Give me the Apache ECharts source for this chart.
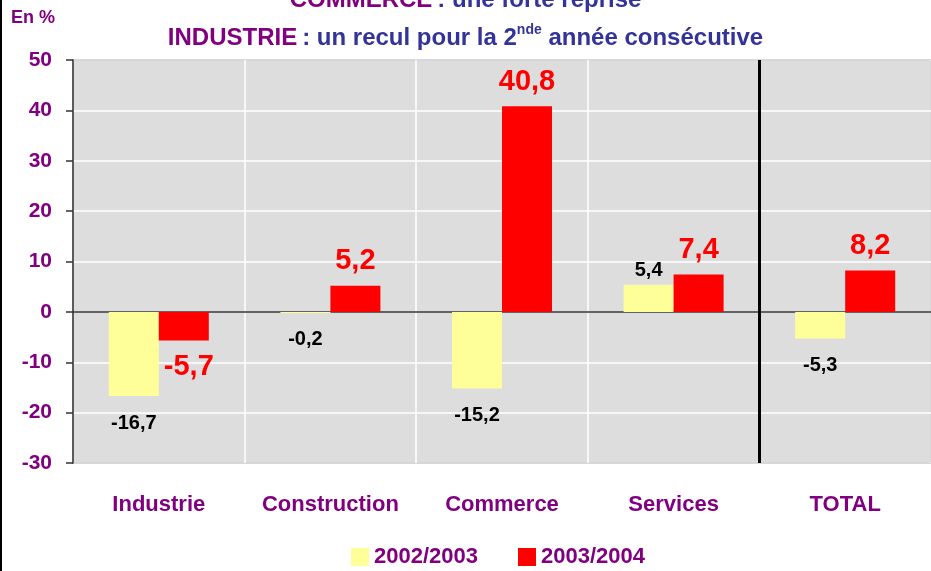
<!DOCTYPE html>
<html>
<head>
<meta charset="utf-8">
<script src="https://cdn.jsdelivr.net/npm/echarts@6/dist/echarts.min.js"></script>
<style>
  html, body { margin: 0; padding: 0; background: #fff; }
  #chart { width: 931px; height: 571px; }
</style>
</head>
<body>
<div id="chart"></div>
<script>
const categories = ["Industrie", "Construction", "Commerce", "Services", "TOTAL"];
const seriesNames = ["2002/2003", "2003/2004"];
const values2003 = [-16.7, -0.2, -15.2, 5.4, -5.3];
const values2004 = [-5.7, 5.2, 40.8, 7.4, 8.2];
const yMin = -30, yMax = 50, yStep = 10;

const FONT = "'Liberation Sans', Arial, sans-serif";
const PURPLE = "#800080";
const BLUE = "#333399";

var chart = echarts.init(document.getElementById('chart'));

const fmt = v => String(v).replace('.', ',');

// label au bout de la barre, dessus ou dessous selon le signe
function withLabels(vals, dist, negOffset) {
    return vals.map(v => ({
        value: v,
        label: {
            position: v < 0 ? 'bottom' : 'top',
            distance: v < 0 ? dist[1] : dist[0],
            offset: v < 0 ? negOffset : [0, 0]
        }
    }));
}

chart.setOption({
    animation: false,
    textStyle: { fontFamily: FONT },
    title: [
        {
            text: "{p|COMMERCE} {b|: une forte reprise}",
            left: 'center',
            top: -17,
            textStyle: {
                rich: {
                    p: { color: PURPLE, fontSize: 24, fontWeight: 'bold', fontFamily: FONT },
                    b: { color: BLUE, fontSize: 24, fontWeight: 'bold', fontFamily: FONT }
                }
            }
        },
        {
            text: "{p|INDUSTRIE} {b|: un recul pour la 2}{s|nde}{b| année consécutive}",
            left: 'center',
            top: 18,
            textStyle: {
                rich: {
                    p: { color: PURPLE, fontSize: 24, fontWeight: 'bold', fontFamily: FONT, lineHeight: 30 },
                    b: { color: BLUE, fontSize: 24, fontWeight: 'bold', fontFamily: FONT, lineHeight: 30 },
                    s: { color: BLUE, fontSize: 14, fontWeight: 'bold', fontFamily: FONT, verticalAlign: 'top', lineHeight: 18 }
                }
            }
        },
        {
            text: "En %",
            left: 6,
            top: 4,
            textStyle: { color: PURPLE, fontSize: 18, fontWeight: 'bold', fontFamily: FONT }
        }
    ],
    legend: {
        data: seriesNames,
        left: 346,
        top: 541,
        itemWidth: 18,
        itemHeight: 18,
        itemGap: 40,
        icon: 'rect',
        textStyle: { color: PURPLE, fontSize: 22, fontWeight: 'bold', fontFamily: FONT }
    },
    grid: {
        left: 73,
        top: 60,
        width: 870,
        bottom: 108,
        show: true,
        backgroundColor: "#dddddd",
        borderColor: "#333",
        borderWidth: 1.5
    },
    xAxis: [
        {
            // ligne du zéro avec ses petits traits
            type: 'category',
            data: categories,
            axisLine: { onZero: true, lineStyle: { color: '#333', width: 1.5 } },
            axisTick: { inside: true, length: 10, lineStyle: { color: '#222', width: 1.5 } },
            axisLabel: { show: false },
            splitLine: { show: true, lineStyle: { color: '#fff', width: 1.5 } }
        },
        {
            type: 'category',
            data: categories,
            position: 'bottom',
            axisLine: { show: false, onZero: false },
            axisTick: { show: false },
            axisLabel: { interval: 0, color: PURPLE, fontSize: 22, fontWeight: 'bold', fontFamily: FONT, margin: 31 }
        },
        {
            type: 'value',
            min: 0,
            max: categories.length,
            show: false
        }
    ],
    yAxis: {
        type: 'value',
        min: yMin,
        max: yMax,
        interval: yStep,
        axisLine: { show: true, lineStyle: { color: '#333', width: 1.5 } },
        axisTick: { show: true, length: 7, lineStyle: { color: '#333', width: 1.5 } },
        axisLabel: { color: PURPLE, fontSize: 21, fontWeight: 'bold', fontFamily: FONT, margin: 21 },
        splitLine: { lineStyle: { color: '#fff', width: 1.5 } }
    },
    series: [
        {
            name: seriesNames[0],
            type: 'bar',
            xAxisIndex: 0,
            data: withLabels(values2003, [4, 17], [0, 0]),
            barWidth: 50,
            barGap: '0%',
            itemStyle: { color: '#ffff99' },
            label: {
                show: true,
                color: '#000',
                fontSize: 20,
                fontWeight: 'bold',
                fontFamily: FONT,
                formatter: p => fmt(p.value)
            }
        },
        {
            name: seriesNames[1],
            type: 'bar',
            xAxisIndex: 0,
            data: withLabels(values2004, [10, 12], [5, 0]),
            barWidth: 50,
            barGap: '0%',
            itemStyle: { color: '#ff0000' },
            label: {
                show: true,
                color: '#ff0000',
                fontSize: 29,
                fontWeight: 'bold',
                fontFamily: FONT,
                formatter: p => fmt(p.value)
            }
        },
        {
            // séparation noire avant TOTAL
            type: 'line',
            xAxisIndex: 2,
            data: [],
            markLine: {
                silent: true,
                symbol: 'none',
                label: { show: false },
                lineStyle: { color: '#000', width: 3, type: 'solid' },
                data: [{ xAxis: categories.length - 1 }]
            }
        }
    ],
    graphic: [
        { type: 'rect', left: 0, top: 0, shape: { width: 2, height: 571 }, style: { fill: '#000' } }
    ]
});

window.addEventListener("resize", () => {
    if (chart) chart.resize();
});
</script>
</body>
</html>
